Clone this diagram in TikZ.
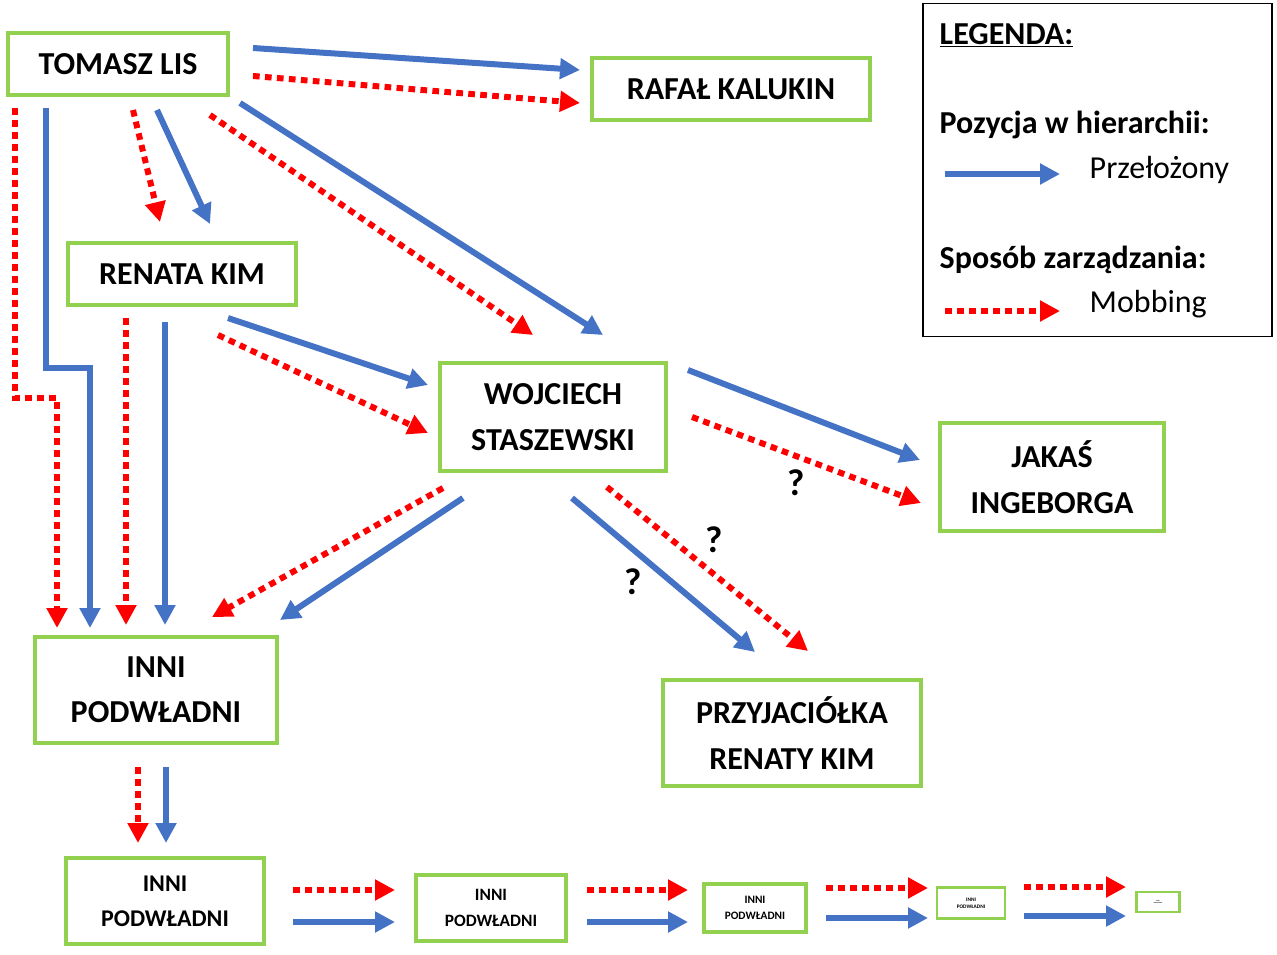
\documentclass[tikz,border=0pt]{standalone}
\usepackage{fontspec}
\setmainfont{Carlito}
\usetikzlibrary{arrows.meta}
\definecolor{bl}{HTML}{4472C4}
\definecolor{gr}{HTML}{92D050}
\begin{document}
\begin{tikzpicture}[x=0.75pt,y=-0.75pt,
 box/.style={draw=gr,line width=3pt,fill=white,inner sep=0pt,align=center,font=\bfseries},
 ba/.style={draw=bl,line width=4.5pt,-{Triangle[length=15pt,width=15pt]}},
 ra/.style={draw=red,line width=4.5pt,dash pattern=on 5pt off 4pt,-{Triangle[length=15pt,width=15pt]}},
 q/.style={font=\bfseries\fontsize{28}{30}\selectfont}]
\useasboundingbox (0,0) rectangle (1277,954);
\node[box,minimum width=165pt,minimum height=46pt,font=\bfseries\fontsize{24}{28}\selectfont] (tl) at (118,64) {TOMASZ LIS};
\node[box,minimum width=209pt,minimum height=46pt,font=\bfseries\fontsize{24}{28}\selectfont] (rk) at (731,89) {RAFAŁ KALUKIN};
\node[box,minimum width=171pt,minimum height=46pt,font=\bfseries\fontsize{24}{28}\selectfont] (ren) at (182,274) {RENATA KIM};
\node[box,minimum width=169pt,minimum height=81pt,font=\bfseries\fontsize{24}{34}\selectfont] (ws) at (553,417) {WOJCIECH\\STASZEWSKI};
\node[box,minimum width=168pt,minimum height=81pt,font=\bfseries\fontsize{24}{34}\selectfont] (ji) at (1052,477) {JAKAŚ\\INGEBORGA};
\node[box,minimum width=182pt,minimum height=80pt,font=\bfseries\fontsize{24}{34}\selectfont] (ip) at (156,690) {INNI\\PODWŁADNI};
\node[box,minimum width=193pt,minimum height=80pt,font=\bfseries\fontsize{24}{34}\selectfont] (pr) at (792,733) {PRZYJACIÓŁKA\\RENATY KIM};
\node[box,minimum width=148pt,minimum height=65pt,font=\bfseries\fontsize{18}{26}\selectfont] (s1) at (165,901) {INNI\\PODWŁADNI};
\node[box,minimum width=112pt,minimum height=50pt,font=\bfseries\fontsize{13}{19}\selectfont] (s2) at (491,908) {INNI\\PODWŁADNI};
\node[box,minimum width=77pt,minimum height=36pt,font=\bfseries\fontsize{8.5}{12}\selectfont] (s3) at (755,908) {INNI\\PODWŁADNI};
\node[box,line width=2.2pt,minimum width=51pt,minimum height=23pt,font=\bfseries\fontsize{4}{5}\selectfont] (s4) at (971,903) {INNI\\PODWŁADNI};
\node[box,line width=2pt,minimum width=32pt,minimum height=15pt,font=\bfseries\fontsize{1.2}{1.5}\selectfont] (s5) at (1158,902) {INNI\\PODWŁADNI};
\node[draw,line width=1.2pt,minimum width=262pt,minimum height=250pt,inner sep=0pt] (leg) at (1097.5,170) {};
\node[anchor=west,font=\bfseries\fontsize{24}{28}\selectfont] (lt) at (935,35) {\underline{LEGENDA:}};
\node[anchor=west,font=\bfseries\fontsize{24}{28}\selectfont] (l1) at (935,125) {Pozycja w hierarchii:};
\node[anchor=west,font=\fontsize{24}{28}\selectfont] (l2) at (1085,170) {Przełożony};
\node[anchor=west,font=\bfseries\fontsize{24}{28}\selectfont] (l3) at (935,260) {Sposób zarządzania:};
\node[anchor=west,font=\fontsize{24}{28}\selectfont] (l4) at (1085,304) {Mobbing};
\node[q] (q1) at (796,483) {?};
\node[q] (q2) at (714,540) {?};
\node[q] (q3) at (633,582) {?};
\draw[ba] (945,174) -- (1060,174);
\draw[ra] (945,311) -- (1060,311);
\draw[ba] (253,48) -- (580,70);
\draw[ra] (253,76) -- (580,103);
\draw[ba] (46,108) -- (46,368) -- (90,368) -- (90,628);
\draw[ra] (15,108) -- (15,398) -- (57,398) -- (57,628);
\draw[ra] (133,110) -- (160,222);
\draw[ba] (157,110) -- (210,224);
\draw[ra] (210,115) -- (533,335);
\draw[ba] (240,103) -- (603,335);
\draw[ba] (228,318) -- (428,385);
\draw[ra] (218,335) -- (428,433);
\draw[ba] (688,370) -- (920,460);
\draw[ra] (692,417) -- (921,503);
\draw[ra] (126,318) -- (126,625);
\draw[ba] (165,322) -- (165,625);
\draw[ra] (443,488) -- (212,617);
\draw[ba] (463,498) -- (280,620);
\draw[ba] (572,498) -- (755,652);
\draw[ra] (607,487) -- (808,651);
\draw[ra] (138,767) -- (138,843);
\draw[ba] (166,767) -- (166,843);
\draw[ra] (293,890) -- (395,890);
\draw[ba] (293,922) -- (395,922);
\draw[ra] (587,890) -- (688,890);
\draw[ba] (587,922) -- (688,922);
\draw[ra] (826,888) -- (928,888);
\draw[ba] (826,918) -- (928,918);
\draw[ra] (1024,887) -- (1126,887);
\draw[ba] (1024,916) -- (1126,916);
\end{tikzpicture}
\end{document}
